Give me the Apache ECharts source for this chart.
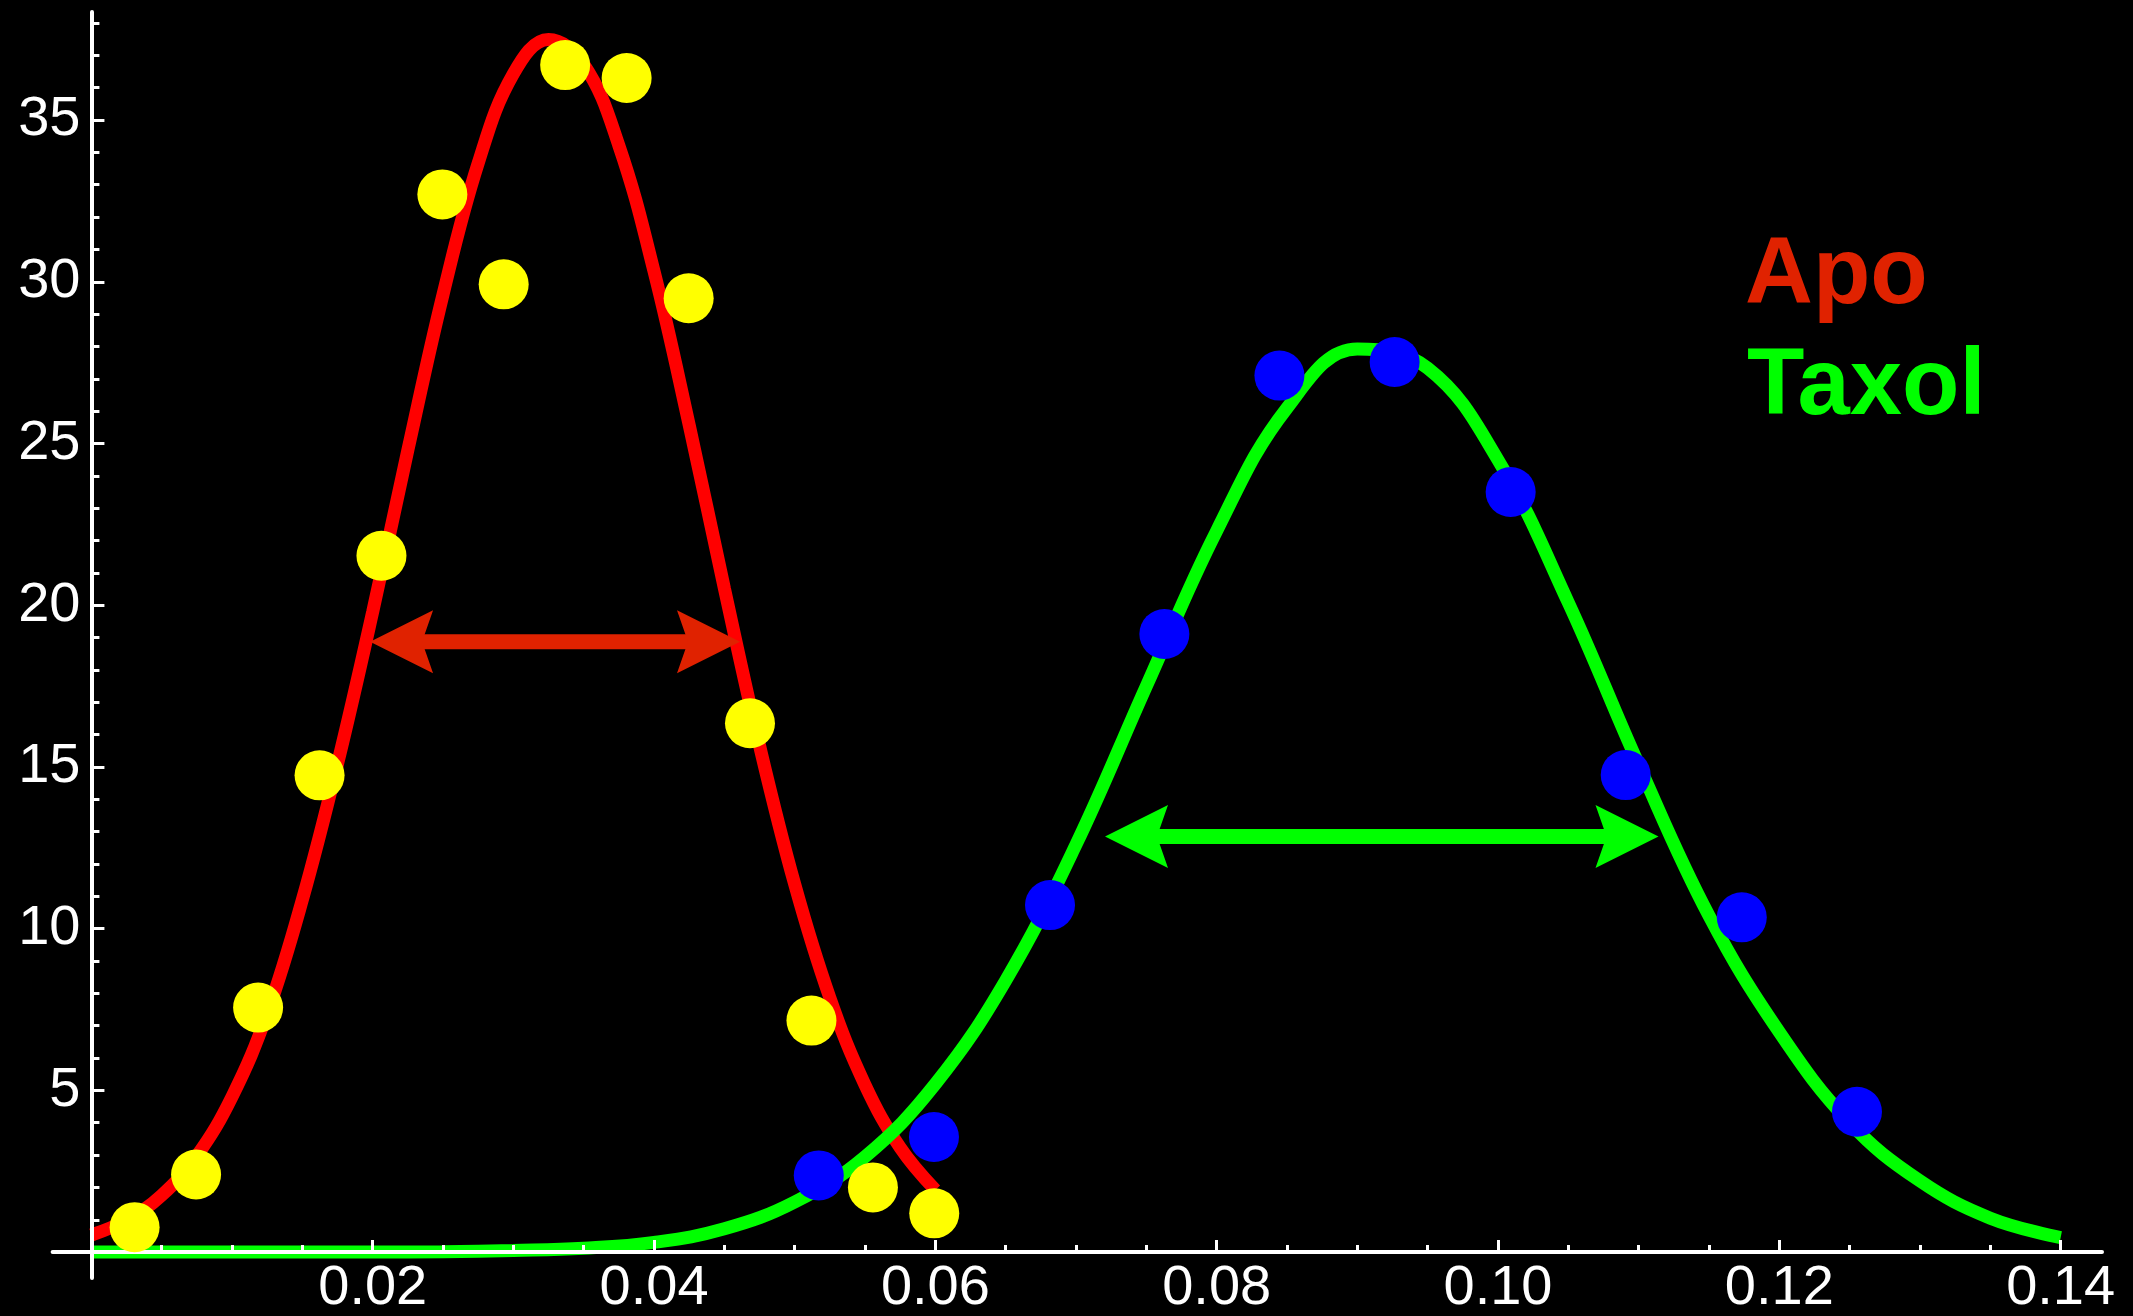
<!DOCTYPE html>
<html><head><meta charset="utf-8">
<script src="https://cdn.jsdelivr.net/npm/echarts@6/dist/echarts.min.js"></script>
<style>html,body{margin:0;padding:0;background:#000}#c{width:2133px;height:1316px}</style>
</head><body><div id="c"></div>
<script>
// measured data points
const apoX = [0.00307, 0.00744, 0.01185, 0.01622, 0.02062, 0.02495, 0.02931, 0.03368, 0.03805, 0.04246, 0.04682, 0.05119, 0.05556, 0.05992];
const apoY = [0.77, 2.40, 7.56, 14.74, 21.53, 32.70, 29.92, 36.70, 36.30, 29.49, 16.35, 7.16, 2.00, 1.20];
const taxolX = [0.05171, 0.0599, 0.06815, 0.07628, 0.08446, 0.09265, 0.1009, 0.10908, 0.11733, 0.12552];
const taxolY = [2.37, 3.56, 10.73, 19.11, 27.10, 27.52, 23.50, 14.75, 10.35, 4.34];
// fitted curves
const apoFitX = [0, 0.0025, 0.005, 0.0075, 0.01, 0.0125, 0.015, 0.0175, 0.02, 0.0225, 0.025, 0.0275, 0.03, 0.0325, 0.035, 0.0375, 0.04, 0.0425, 0.045, 0.0475, 0.05, 0.0525, 0.055, 0.0575, 0.06];
const apoFitY = [0.53, 0.99, 1.76, 2.98, 4.81, 7.38, 10.9, 15.1, 19.8, 24.8, 29.61, 33.67, 36.43, 37.49, 36.72, 34.21, 30.32, 25.57, 20.52, 15.66, 11.37, 7.86, 5.17, 3.23, 1.92];
const taxolFitX = [0, 0.005, 0.01, 0.015, 0.02, 0.025, 0.03, 0.035, 0.04, 0.045, 0.05, 0.055, 0.06, 0.065, 0.07, 0.075, 0.08, 0.085, 0.09, 0.095, 0.1, 0.105, 0.11, 0.115, 0.12, 0.125, 0.13, 0.135, 0.14];
const taxolFitY = [0, 0, 0, 0, 0, 0.01, 0.05, 0.12, 0.30, 0.72, 1.55, 2.95, 5.2, 8.4, 12.6, 17.5, 22.3, 26.1, 27.92, 27.33, 24.49, 20.08, 15.07, 10.4, 6.8, 4.0, 2.2, 1.05, 0.45];
// width arrows: [x start, x end, y]
const apoArrow = [0.01981, 0.04611, 18.87];
const taxolArrow = [0.07206, 0.11141, 12.85];
const legendNames = ['Apo', 'Taxol'];

const FONT = '"Liberation Sans", Arial, Helvetica, sans-serif';
const pairs = (xs, ys) => xs.map((x, i) => [x, ys[i]]);

function arrowRender(params, api) {
  const y = api.value(2);
  const p1 = api.coord([api.value(0), y]);
  const p2 = api.coord([api.value(1), y]);
  const color = api.visual('color');
  const L = 63, H = 31.5, N = 52, W = 15;
  const yy = p1[1];
  return {
    type: 'group',
    children: [
      { type: 'rect', shape: { x: p1[0] + N - 4, y: yy - W / 2, width: (p2[0] - p1[0]) - 2 * (N - 4), height: W }, style: { fill: color } },
      { type: 'polygon', shape: { points: [[p1[0], yy], [p1[0] + L, yy - H], [p1[0] + N, yy], [p1[0] + L, yy + H]] }, style: { fill: color } },
      { type: 'polygon', shape: { points: [[p2[0], yy], [p2[0] - L, yy - H], [p2[0] - N, yy], [p2[0] - L, yy + H]] }, style: { fill: color } }
    ]
  };
}

const chart = echarts.init(document.getElementById('c'), null, { renderer: 'canvas', width: 2133, height: 1316 });
const tickLine = { color: '#fff', width: 3 };
chart.setOption({
  backgroundColor: '#000',
  animation: false,
  grid: [
    { left: 52.6, right: 31, top: 12, bottom: 38, containLabel: false, outerBoundsMode: 'none' },
    { left: 91.42, right: 72.35, top: -41.7, bottom: 63.9, containLabel: false, outerBoundsMode: 'none' }
  ],
  xAxis: [
    { type: 'value', gridIndex: 0, min: -0.00276, max: 0.14294, z: 3,
      axisLine: { show: true, onZero: true, lineStyle: { color: '#fff', width: 4 } },
      axisTick: { show: false }, axisLabel: { show: false }, splitLine: { show: false } },
    { type: 'value', gridIndex: 1, min: 0, max: 0.14, interval: 0.02, z: 3,
      axisLine: { show: false },
      axisTick: { show: true, inside: true, length: 12, lineStyle: tickLine },
      minorTick: { show: true, splitNumber: 4, length: 7, lineStyle: tickLine },
      axisLabel: { show: true, color: '#fff', fontSize: 56, fontFamily: FONT, margin: 8,
        formatter: v => (Math.abs(v) < 1e-9 ? '' : v.toFixed(2)) },
      splitLine: { show: false } }
  ],
  yAxis: [
    { type: 'value', gridIndex: 0, min: -0.8, max: 38.34, z: 3,
      axisLine: { show: true, onZero: true, lineStyle: { color: '#fff', width: 4 } },
      axisTick: { show: false }, axisLabel: { show: false }, splitLine: { show: false } },
    { type: 'value', gridIndex: 1, min: 0, max: 40, interval: 5, z: 3,
      axisLine: { show: false },
      axisTick: { show: true, inside: true, length: 13, lineStyle: tickLine },
      minorTick: { show: true, splitNumber: 5, length: 8, lineStyle: tickLine },
      axisLabel: { show: true, color: '#fff', fontSize: 56, fontFamily: FONT, margin: 11,
        formatter: v => (v === 0 ? '' : String(v)) },
      splitLine: { show: false } }
  ],
  series: [
    { type: 'line', name: 'Apo fit', xAxisIndex: 0, yAxisIndex: 0, data: pairs(apoFitX, apoFitY),
      showSymbol: false, smooth: 0.4, z: 2,
      lineStyle: { color: '#ff0000', width: 13 } },
    { type: 'line', name: 'Taxol fit', xAxisIndex: 0, yAxisIndex: 0, data: pairs(taxolFitX, taxolFitY),
      showSymbol: false, smooth: 0.4, z: 2,
      lineStyle: { color: '#00ff00', width: 13 } },
    { type: 'custom', name: 'Apo width', xAxisIndex: 0, yAxisIndex: 0, renderItem: arrowRender,
      data: [apoArrow], itemStyle: { color: '#e02200' }, z: 5, clip: false },
    { type: 'custom', name: 'Taxol width', xAxisIndex: 0, yAxisIndex: 0, renderItem: arrowRender,
      data: [taxolArrow], itemStyle: { color: '#00ff00' }, z: 5, clip: false },
    { type: 'scatter', name: legendNames[0], xAxisIndex: 0, yAxisIndex: 0, data: pairs(apoX, apoY),
      symbol: 'circle', symbolSize: 50, z: 6, itemStyle: { color: '#ffff00', opacity: 1 } },
    { type: 'scatter', name: legendNames[1], xAxisIndex: 0, yAxisIndex: 0, data: pairs(taxolX, taxolY),
      symbol: 'circle', symbolSize: 50, z: 6, itemStyle: { color: '#0000ff', opacity: 1 } }
  ],
  graphic: [
    { type: 'text', left: 1745, top: 230, z: 10,
      style: { text: legendNames[0], fill: '#e02200', font: 'bold 94px ' + FONT } },
    { type: 'text', left: 1747, top: 341, z: 10,
      style: { text: legendNames[1], fill: '#00ff00', font: 'bold 94px ' + FONT } }
  ]
});
</script></body></html>
